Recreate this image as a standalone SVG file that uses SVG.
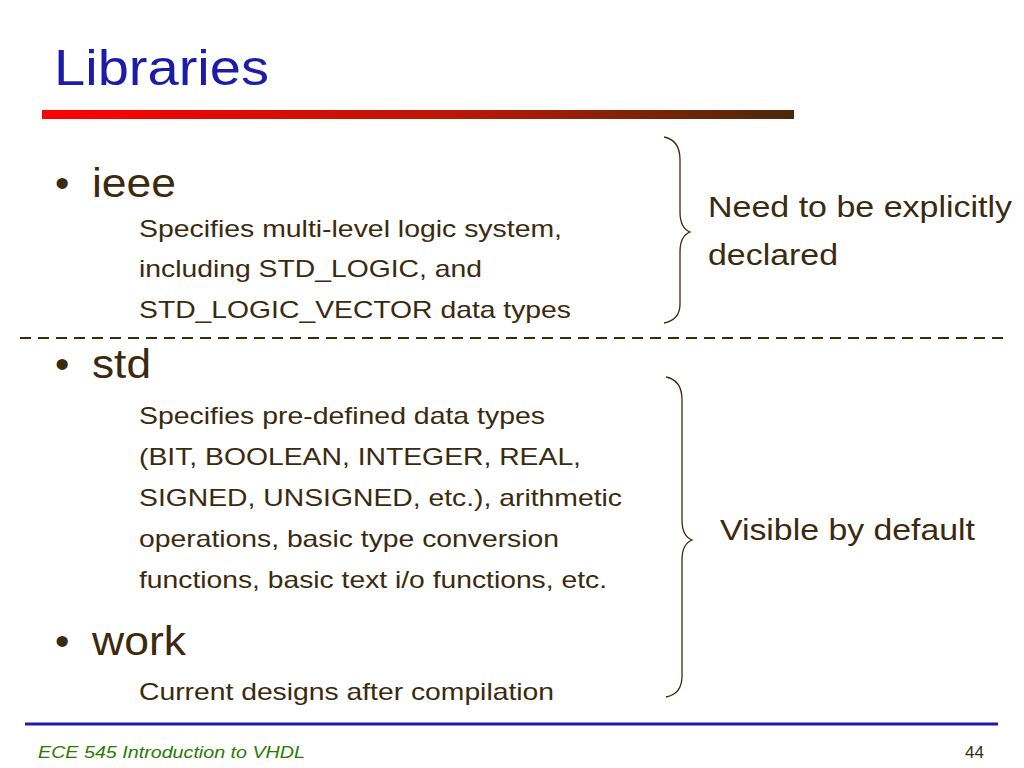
<svg xmlns="http://www.w3.org/2000/svg" width="1024" height="768" viewBox="0 0 1024 768">
<style>
text{font-family:"Liberation Sans",Arial,sans-serif;fill:#3b2a0e}
.b{font-size:41px}.s{font-size:24px}.r{font-size:29px}
.br{fill:none;stroke:#3b2a0e;stroke-width:1.3}
</style>
<defs><linearGradient id="g" x1="0" x2="1"><stop offset="0" stop-color="#ff0000"/><stop offset="0.6" stop-color="#b01a08"/><stop offset="1" stop-color="#4a2a08"/></linearGradient></defs>
<rect width="1024" height="768" fill="#fff"/>
<text x="54" y="85" style="font-size:50px;fill:#1c1ca8" textLength="215" lengthAdjust="spacingAndGlyphs">Libraries</text>
<rect x="42" y="110" width="752" height="9" fill="url(#g)"/>
<g id="ieee"><text x="55" y="197" class="b">•</text><text x="92" y="197" class="b" textLength="84" lengthAdjust="spacingAndGlyphs">ieee</text>
<text x="139" y="237" class="s" textLength="423" lengthAdjust="spacingAndGlyphs">Specifies multi-level logic system,</text>
<text x="139" y="277" class="s" textLength="343" lengthAdjust="spacingAndGlyphs">including STD_LOGIC, and</text>
<text x="139" y="318" class="s" textLength="432" lengthAdjust="spacingAndGlyphs">STD_LOGIC_VECTOR data types</text></g>
<line x1="20" y1="338" x2="1010" y2="338" stroke="#3b2a0e" stroke-width="2" stroke-dasharray="11,7"/>
<g id="std"><text x="55" y="378" class="b">•</text><text x="92" y="378" class="b" textLength="59" lengthAdjust="spacingAndGlyphs">std</text>
<text x="139" y="424" class="s" textLength="406" lengthAdjust="spacingAndGlyphs">Specifies pre-defined data types</text>
<text x="139" y="465" class="s" textLength="442" lengthAdjust="spacingAndGlyphs">(BIT, BOOLEAN, INTEGER, REAL,</text>
<text x="139" y="506" class="s" textLength="483" lengthAdjust="spacingAndGlyphs">SIGNED, UNSIGNED, etc.), arithmetic</text>
<text x="139" y="547" class="s" textLength="420" lengthAdjust="spacingAndGlyphs">operations, basic type conversion</text>
<text x="139" y="588" class="s" textLength="468" lengthAdjust="spacingAndGlyphs">functions, basic text i/o functions, etc.</text></g>
<g id="work"><text x="55" y="655" class="b">•</text><text x="92" y="655" class="b" textLength="94" lengthAdjust="spacingAndGlyphs">work</text>
<text x="139" y="700" class="s" textLength="415" lengthAdjust="spacingAndGlyphs">Current designs after compilation</text></g>
<g id="braces">
<path class="br" d="M664 137 Q680 140 680 160 L680 212 Q680 228 690 232 Q680 236 680 252 L680 304 Q680 320 664 323"/>
<path class="br" d="M666 377 Q682 380 682 400 L682 520 Q682 536 692 540 Q682 544 682 560 L682 676 Q682 694 666 697"/>
</g>
<text x="708" y="217" class="r" textLength="304" lengthAdjust="spacingAndGlyphs">Need to be explicitly</text>
<text x="708" y="265" class="r" textLength="130" lengthAdjust="spacingAndGlyphs">declared</text>
<text x="720" y="540" class="r" textLength="255" lengthAdjust="spacingAndGlyphs">Visible by default</text>
<line x1="25" y1="724" x2="998" y2="724" stroke="#1c1ca8" stroke-width="3"/>
<text x="38" y="758" style="font-size:17px;font-style:italic;fill:#2a7a00" textLength="267" lengthAdjust="spacingAndGlyphs">ECE 545 Introduction to VHDL</text>
<text x="965" y="758" style="font-size:17px;fill:#3b2a0e">44</text>
</svg>
